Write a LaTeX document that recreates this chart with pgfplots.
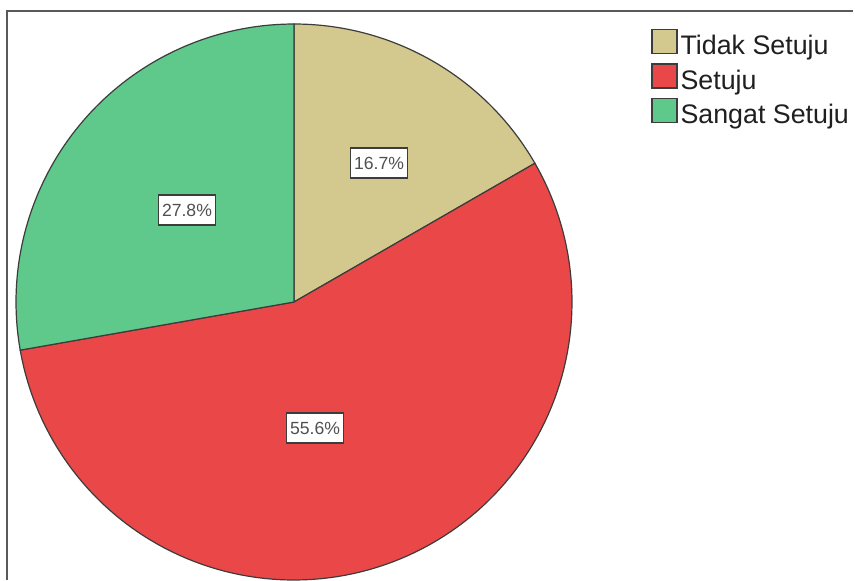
\documentclass[border=0pt]{standalone}
\usepackage{pgfplots}
\pgfplotsset{compat=1.18}
\usepackage{pgfplotstable}
\usepackage{fontspec}
\setmainfont{Liberation Sans}
\definecolor{tidak}{HTML}{D3C98E}
\definecolor{setuju}{HTML}{EA4848}
\definecolor{sangat}{HTML}{5EC98A}
\definecolor{edge}{HTML}{3C3C3C}
\definecolor{lbltext}{HTML}{505050}

% label positions (axis units, radius = 1) and percentages
\pgfplotstableread{
lx ly pct
0.306 0.500 16.7
0.0755 -0.453 55.6
-0.385 0.331 27.8
}\labels

\def\pA{16.7}\def\pB{55.6}\def\pC{27.8}
\pgfmathsetmacro\tot{\pA+\pB+\pC}
\pgfmathsetmacro\aA{90}
\pgfmathsetmacro\aB{90-3.6*(\pA/\tot*100)}
\pgfmathsetmacro\aC{\aB-3.6*(\pB/\tot*100)}
\pgfmathsetmacro\aD{\aC-3.6*(\pC/\tot*100)}

\begin{document}
\begin{tikzpicture}
\useasboundingbox (0,0) rectangle (427.5pt,290pt);
\fill[white] (0,0) rectangle (427.5pt,290pt);
\draw[line width=1pt, gray!70!black] (3.5pt,0) -- (3.5pt,284.5pt) -- (426.5pt,284.5pt);
\begin{axis}[
  at={(147pt,139pt)}, anchor=center,
  x=139pt, y=139pt, xmin=-1, xmax=1, ymin=-1, ymax=1,
  hide axis, clip=false,
  /pgf/number format/assume math mode=true,
  legend style={at={(axis description cs:1.142,0.992)}, anchor=north west,
    draw=none, fill=none, inner sep=0pt,
    font=\fontsize{13.4pt}{16pt}\selectfont, text=black!88,
    nodes={inner sep=1.5pt, text height=10pt, text depth=3pt},
    row sep=0pt},
  legend cell align=left,
  legend image code/.code={\draw[#1, line width=0.6pt] (0pt,-3pt) rectangle (12.5pt,9pt);},
]
\addplot[fill=tidak, draw=edge, line width=0.6pt, domain=\aB:\aA, samples=60, variable=\t]
  ({cos(\t)},{sin(\t)}) -- (axis cs:0,0) -- cycle;
\addlegendentry{Tidak Setuju}
\addplot[fill=setuju, draw=edge, line width=0.6pt, domain=\aC:\aB, samples=120, variable=\t]
  ({cos(\t)},{sin(\t)}) -- (axis cs:0,0) -- cycle;
\addlegendentry{Setuju}
\addplot[fill=sangat, draw=edge, line width=0.6pt, domain=\aD:\aC, samples=80, variable=\t]
  ({cos(\t)},{sin(\t)}) -- (axis cs:0,0) -- cycle;
\addlegendentry{Sangat Setuju}

\addplot[draw=none, mark=none, forget plot,
  point meta=explicit,
  nodes near coords={\pgfmathprintnumber[fixed,precision=1,fixed zerofill,assume math mode=true]{\pgfplotspointmeta}\%},
  every node near coord/.append style={anchor=center, fill=white, draw=edge,
    line width=0.6pt, text=lbltext, font=\fontsize{8.8pt}{10pt}\selectfont,
    inner xsep=1.8pt, inner ysep=0pt, minimum height=15pt}]
  table[x=lx, y=ly, meta=pct]{\labels};
\end{axis}
\end{tikzpicture}
\end{document}
